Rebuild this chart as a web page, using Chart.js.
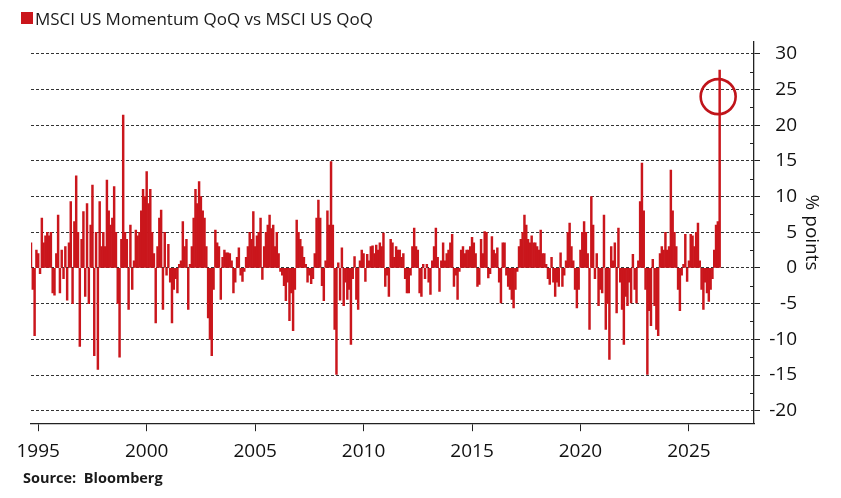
<!DOCTYPE html>
<html><head><meta charset="utf-8">
<script src="https://cdn.jsdelivr.net/npm/chart.js@4.4.1/dist/chart.umd.min.js"></script>
<style>html,body{margin:0;padding:0;background:#fff;}#wrap{position:relative;width:841px;height:498px;}</style>
</head><body><div id="wrap"><canvas id="c" width="841" height="498"></canvas></div>
<script>
// ---- data ----
const seriesLabel = 'MSCI US Momentum QoQ vs MSCI US QoQ';
const sourceText = 'Source:  Bloomberg';
const axisTitle = '% points';
const firstMonth = [1994, 9];   // first observation
const lastMonth = [2028, 1];    // right edge of the time axis
const xTickYears = [1995, 2000, 2005, 2010, 2015, 2020, 2025];
const yTickValues = [-20, -15, -10, -5, 0, 5, 10, 15, 20, 25, 30];
const yMinorTicks = [-17.5, -12.5, -7.5, -2.5, 2.5, 7.5, 12.5, 17.5, 22.5, 27.5];
const highlightValue = 24;
// monthly spread, % points (Sep 1994 onward)
const momentumSpread = [
 3.5,-3,-9.5,2.5,2,-0.8,7,3.5,4.5,5,4.5,5,-3.5,-3.8,2,7.4,-3.5,2.5,-1.5,3,
 -4.5,3.5,9.3,-5,6.5,12.9,5,-11,4,7.9,-4,9,-5,6,11.6,-12.3,5,-14.2,9.3,3,
 5,3,12.3,8,6,7,11.4,5,-5,-12.5,4,21.4,5,4,-5.8,6,-3,1,5.3,4.5,
 5,8,11,10,13.5,9,11,5,2,-7.7,3,7,8.1,-5.8,5,-1,3.3,-2,-7.7,-3,
 -1.5,-3.5,0.5,1,6.5,3,4,-5.8,0.5,3,7,11,9,12.1,10,8,7,3,-7,-10,
 -12.3,-3,5.3,3.5,3,-4.4,1.5,2.5,2.1,2.1,2,1,-3.5,-2,1.5,2.8,-1,-1.9,-0.5,1.5,
 3,5,4,7.9,3,4.5,5,7,-1.6,3,5,6,7.4,5.5,6,3,5,2,-0.5,-1,
 -2.5,-4.6,-2,-7.4,-3.5,-8.8,-3,6.7,5,4,3,1.5,0.5,-2,-1,-2.2,-1.5,2,7,9.5,
 7,-2.5,-4.6,1,8,6,14.9,6,-8.6,-14.9,0.7,-4.5,2.8,-5.3,-2,-4.4,-3,-10.7,-1.5,1.6,
 -4.4,-5.8,1,2.5,2,-1.9,1.9,1,3,3.1,2,3.2,2.5,3.5,3,4.9,-2.6,-1,-4,4,
 3.5,1.5,3,2.5,2.5,1.5,2,-1.5,-3.5,-3.5,-1,3,5.6,3,2.5,-3.5,-4,0.5,-1.5,0.5,
 -2,-3.7,1,3,5.6,1.5,-3.3,1,3.5,1,2,2.5,3.5,4.7,-2.6,-1,-4.4,-0.5,2.5,3,
 2,2.5,2.5,3,4.3,3.5,2,-2.6,-2.3,4,2,5.1,5,-1.4,-0.8,4.4,2.5,2,2.8,-2,
 -4.9,3.5,3.5,-1,-2.6,-3,-4.4,-5.6,-3,-0.5,3,4,5,7.4,6,4,3.5,4.5,3.5,3.5,
 3,2.5,5.3,2,2,0.5,-1.5,-2.3,1.5,-2,-4,-2,-2.6,2.1,-2.6,-1,1,5,6.3,3,
 1,-3,-5.6,-3,2.5,5,6.5,5,2,-8.6,10,6,-1.5,2,-5.3,-3,-3.5,7.4,-8.6,-5,
 -12.8,3,1,3.5,-6.3,5.6,-2,-5.8,-10.7,-4,-5.3,-2,-4.9,1.9,-3,-4.9,1,9.3,14.7,8,
 -3,-14.9,-6,-8.1,1.2,-5.3,-8.6,-9.5,2,3,2.5,5,2.5,3,13.7,8,5,3,-3,-6,
 -1,0.5,4.7,-1.9,1,4.7,4.5,3,5,6.3,1,-3,-5.8,-2,-3.5,-4.7,-3,-1.5,2.5,6,
 6.5,27.7
];

// month categories
const months = [];
for (let y = firstMonth[0], m = firstMonth[1]; y < lastMonth[0] || (y === lastMonth[0] && m <= lastMonth[1]); ) {
  months.push(y + '-' + String(m).padStart(2, '0'));
  m++; if (m > 12) { m = 1; y++; }
}

const FONT = "'Open Sans', 'Noto Sans', sans-serif";
const RED = 'rgb(202,22,28)';
const AXIS = '#222';

const extrasPlugin = {
  id: 'extras',
  afterDatasetsDraw(chart) {
    const ctx = chart.ctx, ys = chart.scales.y, area = chart.chartArea;
    ctx.save();
    ctx.strokeStyle = AXIS; ctx.lineWidth = 1;
    yMinorTicks.forEach(v => {
      const py = Math.round(ys.getPixelForValue(v)) + 0.5;
      ctx.beginPath(); ctx.moveTo(area.right - 4, py); ctx.lineTo(area.right, py); ctx.stroke();
    });
    const meta = chart.getDatasetMeta(0);
    const pt = meta.data[momentumSpread.length - 1];
    ctx.strokeStyle = 'rgb(192,20,26)'; ctx.lineWidth = 2.6;
    ctx.beginPath(); ctx.arc(pt.x - 1.5, ys.getPixelForValue(highlightValue), 17.5, 0, Math.PI * 2); ctx.stroke();
    ctx.restore();
  },
  afterDraw(chart) {
    const ctx = chart.ctx, area = chart.chartArea;
    ctx.save();
    const ds = chart.data.datasets[0];
    ctx.fillStyle = ds.backgroundColor;
    ctx.fillRect(21, 12, 12, 12);
    ctx.fillStyle = '#1a1a1a';
    ctx.font = '17px ' + FONT;
    ctx.textBaseline = 'alphabetic';
    ctx.fillText(ds.label, 35, 25);
    ctx.font = 'bold 14.5px ' + FONT;
    ctx.fillText(sourceText, 23, 483);
    // axis title, reading top to bottom
    ctx.font = '19px ' + FONT;
    ctx.fillStyle = '#111';
    ctx.translate(811, (area.top + area.bottom) / 2);
    ctx.rotate(Math.PI / 2);
    ctx.textAlign = 'center';
    ctx.textBaseline = 'middle';
    ctx.fillText(axisTitle, 0, 0);
    ctx.restore();
  }
};

new Chart(document.getElementById('c'), {
  type: 'bar',
  data: {
    labels: months,
    datasets: [{
      label: seriesLabel,
      data: momentumSpread,
      backgroundColor: RED,
      borderWidth: 0,
      barPercentage: 1,
      categoryPercentage: 1
    }]
  },
  options: {
    responsive: false,
    animation: false,
    devicePixelRatio: 1,
    layout: { padding: { left: 31, top: 42, right: 44, bottom: 26 } },
    plugins: { legend: { display: false }, tooltip: { enabled: false } },
    scales: {
      x: {
        type: 'category',
        offset: false,
        grid: {
          display: true, drawOnChartArea: false, drawTicks: true, tickLength: 8, offset: false,
          tickColor: (c) => (c.tick && c.tick.label) ? AXIS : 'rgba(0,0,0,0)',
          tickWidth: 1
        },
        border: { display: true, color: AXIS, width: 1.3 },
        ticks: {
          autoSkip: false, maxRotation: 0, minRotation: 0, padding: 9,
          color: '#111', font: { family: FONT, size: 19 },
          callback: function (v) {
            const lab = this.getLabelForValue(v);
            const yr = +lab.slice(0, 4), mo = lab.slice(5);
            return (mo === '01' && xTickYears.includes(yr)) ? String(yr) : '';
          }
        }
      },
      y: {
        position: 'right',
        min: -21.75, max: 31.65,
        afterBuildTicks: (s) => { s.ticks = yTickValues.map(v => ({ value: v })); },
        afterFit: (s) => { s.width = 43; },
        grid: {
          color: '#333', lineWidth: 1, drawTicks: true, tickLength: 6,
          tickColor: AXIS, tickWidth: 1, tickBorderDash: []
        },
        border: { display: true, color: AXIS, width: 1.3, dash: [3, 2] },
        ticks: {
          crossAlign: 'far', padding: 9, color: '#111',
          font: { family: FONT, size: 19 }
        },
        title: { display: false }
      }
    }
  },
  plugins: [extrasPlugin]
});
</script></body></html>
